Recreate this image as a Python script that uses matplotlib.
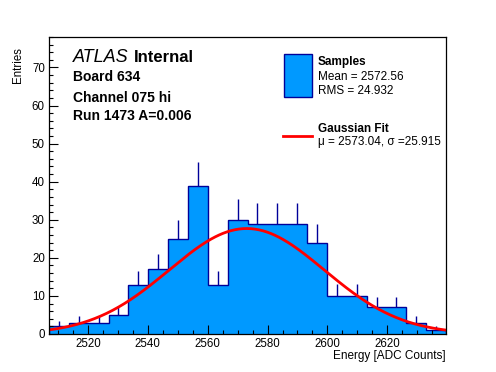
import numpy as np
import matplotlib
matplotlib.use("Agg")
import matplotlib.pyplot as plt
from matplotlib.patches import Rectangle
from matplotlib.ticker import MultipleLocator

plt.rcParams['font.family'] = ['Liberation Sans', 'DejaVu Sans']

# histogram data
x_min, x_max = 2507.0, 2639.6
counts = np.array([2, 3, 3, 5, 13, 17, 25, 39, 13, 30,
                   29, 29, 29, 24, 10, 10, 7, 7, 3, 1])
edges = np.linspace(x_min, x_max, len(counts) + 1)

# gaussian fit parameters
fit_mu = 2573.04
fit_sigma = 25.915
fit_amp = 27.7

mean_txt = "Mean = 2572.56"
rms_txt = "RMS = 24.932"
fit_txt = "\u03bc = 2573.04, \u03c3 =25.915"

fill_col = '#0099ff'
edge_col = '#000099'

W, H = 496, 372
fig = plt.figure(figsize=(W / 100, H / 100), dpi=100)
ax = fig.add_axes([49 / W, 1 - 334 / H, 397 / W, 297 / H])

ax.stairs(counts, edges, fill=True, color=fill_col, lw=0)
centers = 0.5 * (edges[:-1] + edges[1:])
ax.vlines(centers, counts, counts + np.sqrt(counts), color=edge_col, lw=1)
ax.stairs(counts, edges, color=edge_col, lw=1)

xs = np.linspace(x_min, x_max, 400)
ys = fit_amp * np.exp(-0.5 * ((xs - fit_mu) / fit_sigma) ** 2)
ax.plot(xs, ys, color='red', lw=2)

ax.set_xlim(x_min, x_max)
ax.set_ylim(0, 78)
ax.xaxis.set_major_locator(MultipleLocator(20))
ax.xaxis.set_minor_locator(MultipleLocator(5))
ax.yaxis.set_major_locator(MultipleLocator(10))
ax.yaxis.set_minor_locator(MultipleLocator(2))
ax.tick_params(which='both', direction='in', top=False, right=False,
               labelsize=8.3, width=0.8)
ax.tick_params(which='major', length=6.5)
ax.tick_params(which='minor', length=3.2)
ax.tick_params(axis='x', pad=3)
ax.tick_params(axis='y', pad=3)
for s in ax.spines.values():
    s.set_linewidth(0.9)

# overlay in pixel coordinates for the labels and legend
ov = fig.add_axes([0, 0, 1, 1])
ov.set_xlim(0, W)
ov.set_ylim(H, 0)
ov.axis('off')

ov.text(18, 47, "Entries", rotation=90, ha='center', va='top', fontsize=8.3)
ov.text(446, 359.5, "Energy [ADC Counts]", ha='right', va='baseline', fontsize=8.5)

ov.text(73, 62.5, "ATLAS", style='italic', fontsize=13, va='baseline')
ov.text(134, 62.5, "Internal", weight='bold', fontsize=12, va='baseline')
ov.text(73, 81, "Board 634", weight='bold', fontsize=10, va='baseline')
ov.text(73, 101.5, "Channel 075 hi", weight='bold', fontsize=10, va='baseline')
ov.text(73, 120, "Run 1473 A=0.006", weight='bold', fontsize=10, va='baseline')

ov.add_patch(Rectangle((283.5, 53.5), 28, 43, facecolor=fill_col,
                       edgecolor=edge_col, lw=1))
ov.text(317.5, 65, "Samples", weight='bold', fontsize=8.5, va='baseline')
ov.text(317.5, 80, mean_txt, fontsize=8.5, va='baseline')
ov.text(317.5, 93.5, rms_txt, fontsize=8.5, va='baseline')
ov.plot([283, 311.5], [136, 136], color='red', lw=2)
ov.text(317.5, 131.5, "Gaussian Fit", weight='bold', fontsize=8.5, va='baseline')
ov.text(317.5, 145, fit_txt, fontsize=8.5, va='baseline')

fig.savefig("out.png", dpi=100)
